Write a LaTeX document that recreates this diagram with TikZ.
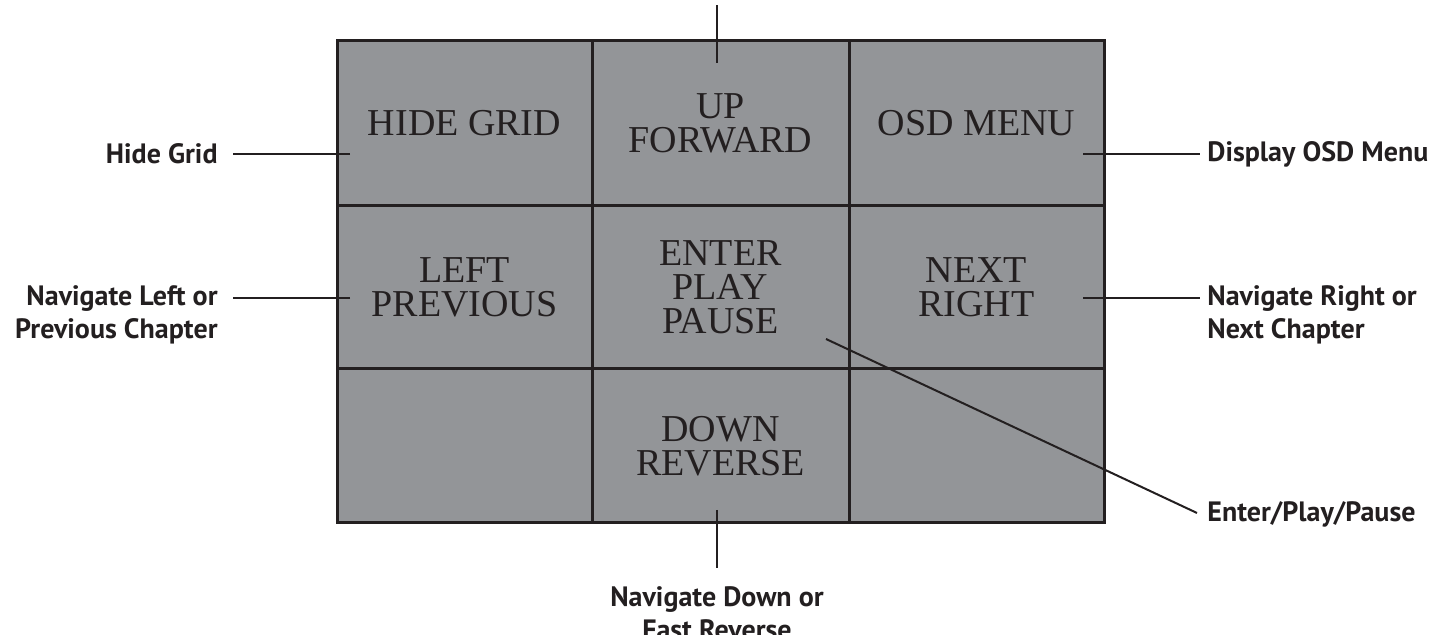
\documentclass[tikz,border=0pt]{standalone}
\usepackage{fontspec}
\setmainfont{Liberation Serif}
\newfontfamily\lblfont{PT Sans}
\usetikzlibrary{positioning}
\definecolor{panelgray}{HTML}{939598}
\definecolor{inkline}{HTML}{231F20}
\tikzset{
  cell/.style={draw=inkline, fill=panelgray, line width=1.5pt, align=center,
    inner sep=0pt, text=inkline, font=\fontsize{19}{17}\selectfont},
  lead/.style={draw=inkline, line width=1pt},
  lbl/.style={inner sep=0pt, text=inkline, font=\lblfont\bfseries\fontsize{14}{16.5}\selectfont},
}
\begin{document}
\begin{tikzpicture}[x=0.5pt, y=0.5pt]
        \useasboundingbox (0,0) rectangle (1447,635);

        % keypad cells
        \node[cell, minimum width=127.5pt, minimum height=82.5pt] (hidegrid) at (464.5,511.5) {HIDE GRID};
        \node[cell, minimum width=128.5pt, minimum height=82.5pt] (upfwd) at (720.5,511.5) {UP\\FORWARD};
        \node[cell, minimum width=127.5pt, minimum height=82.5pt] (osdmenu) at (976.5,511.5) {OSD MENU};
        \node[cell, minimum width=127.5pt, minimum height=81.5pt] (leftprev) at (464.5,347.5) {LEFT\\PREVIOUS};
        \node[cell, minimum width=128.5pt, minimum height=81.5pt] (enterplay) at (720.5,347.5) {ENTER\\PLAY\\PAUSE};
        \node[cell, minimum width=127.5pt, minimum height=81.5pt] (nextright) at (976.5,347.5) {NEXT\\RIGHT};
        \node[cell, minimum width=127.5pt, minimum height=77pt] (blankleft) at (464.5,189) {};
        \node[cell, minimum width=128.5pt, minimum height=77pt] (downrev) at (720.5,189) {DOWN\\REVERSE};
        \node[cell, minimum width=127.5pt, minimum height=77pt] (blankright) at (976.5,189) {};

        % leader ends
        \coordinate (upin) at (717,572);
        \coordinate (upend) at (717,630);
        \coordinate (hidetip) at (350,481);
        \coordinate (hideend) at (233,481);
        \coordinate (lefttip) at (350,337);
        \coordinate (leftend) at (233,337);
        \coordinate (osdtip) at (1083,481);
        \coordinate (osdend) at (1200,481);
        \coordinate (righttip) at (1083,337);
        \coordinate (rightend) at (1200,337);
        \coordinate (entertip) at (826,296);
        \coordinate (enterend) at (1197,122);
        \coordinate (downtip) at (717,125);
        \coordinate (downend) at (717,67);

        % labels
        \node[lbl, left=7.5pt of hideend] (lblhide) {Hide Grid};
        \node[lbl, align=right, anchor=north east] (lblleft) at ([xshift=-7.5pt, yshift=6.5pt]leftend) {Navigate Left or\\Previous Chapter};
        \node[lbl, right=3.5pt of osdend] (lblosd) {Display OSD Menu};
        \node[lbl, align=left, anchor=north west] (lblright) at ([xshift=3.5pt, yshift=6.5pt]rightend) {Navigate Right or\\Next Chapter};
        \node[lbl, anchor=base west] (lblenter) at ([xshift=5pt, yshift=-4.5pt]enterend) {Enter/Play/Pause};
        \node[lbl, align=center, below=9pt of downend] (lbldown) {Navigate Down or\\Fast Reverse};

        \draw[lead] (upin) -- (upend);
        \draw[lead] (hidetip) -- (hideend);
        \draw[lead] (lefttip) -- (leftend);
        \draw[lead] (osdtip) -- (osdend);
        \draw[lead] (righttip) -- (rightend);
        \draw[lead] (entertip) -- (enterend);
        \draw[lead] (downtip) -- (downend);
\end{tikzpicture}
\end{document}
